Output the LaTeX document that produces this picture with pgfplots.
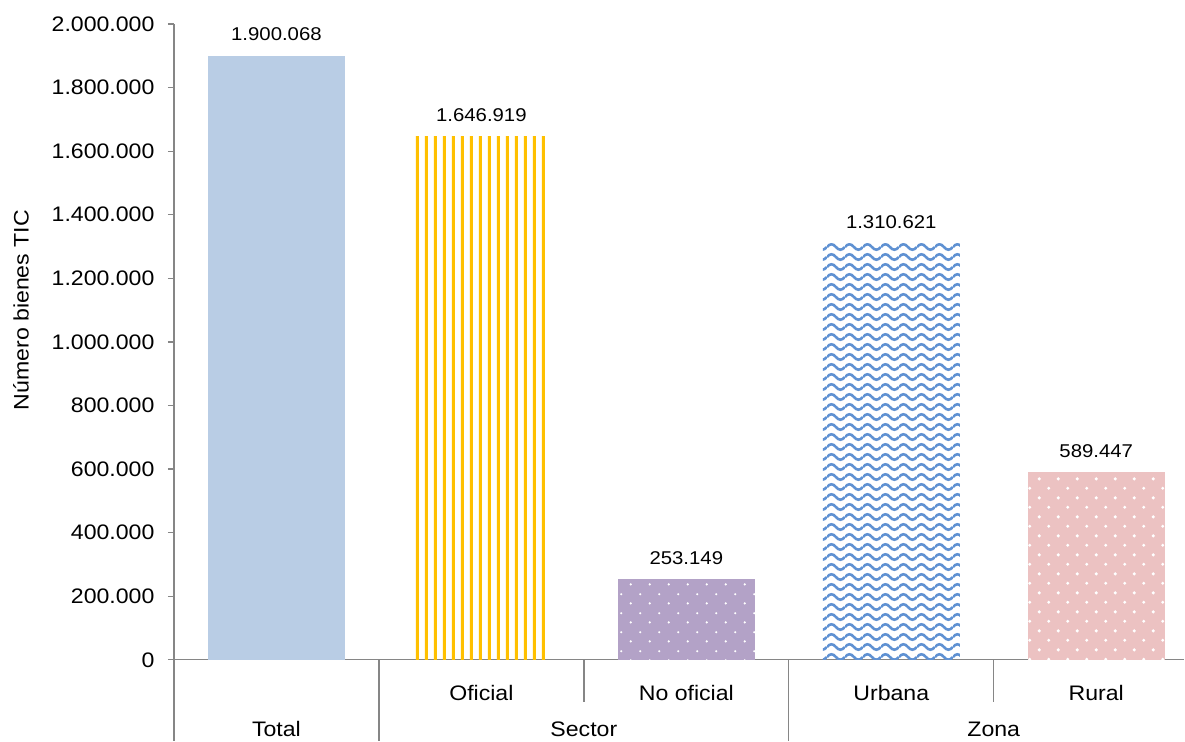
\documentclass[border=0pt]{standalone}
\usepackage{fontspec}
\setmainfont{Liberation Sans}[FakeStretch=1.1]
\usepackage{pgfplots}
\pgfplotsset{compat=1.18}
\usetikzlibrary{patterns}

\definecolor{totalblue}{RGB}{185,205,229}
\definecolor{gold}{RGB}{255,192,0}
\definecolor{lilac}{RGB}{179,162,199}
\definecolor{waveblue}{RGB}{95,145,210}
\definecolor{pinkc}{RGB}{236,194,194}
\definecolor{axgray}{RGB}{134,134,134}

\pgfdeclarepatternformonly{vstripes}{\pgfqpoint{0bp}{0bp}}{\pgfqpoint{9.2bp}{4bp}}{\pgfqpoint{9.2bp}{4bp}}{%
  \pgfpathrectangle{\pgfqpoint{3bp}{-1bp}}{\pgfqpoint{3.4bp}{6bp}}\pgfusepath{fill}}
\pgfdeclarepatternformonly{sdots}{\pgfqpoint{0bp}{0bp}}{\pgfqpoint{19bp}{19.2bp}}{\pgfqpoint{19bp}{19.2bp}}{%
  \pgfpathcircle{\pgfqpoint{4.75bp}{4.8bp}}{1.2bp}\pgfpathcircle{\pgfqpoint{14.25bp}{14.4bp}}{1.2bp}\pgfusepath{fill}}
\pgfdeclarepatternformonly{stars}{\pgfqpoint{0bp}{0bp}}{\pgfqpoint{19bp}{19.4bp}}{\pgfqpoint{19bp}{19.4bp}}{%
  \pgfpathcircle{\pgfqpoint{4.75bp}{4.85bp}}{1.7bp}\pgfpathcircle{\pgfqpoint{14.25bp}{14.55bp}}{1.7bp}\pgfusepath{fill}}
\pgfdeclarepatternformonly{waves}{\pgfqpoint{0bp}{0bp}}{\pgfqpoint{18.4bp}{10bp}}{\pgfqpoint{18.4bp}{10bp}}{%
  \pgfsetlinewidth{2.6bp}%
  \pgfpathmoveto{\pgfqpoint{0bp}{5bp}}%
  \pgfpathcurveto{\pgfqpoint{3.07bp}{8.6bp}}{\pgfqpoint{6.13bp}{8.6bp}}{\pgfqpoint{9.2bp}{5bp}}%
  \pgfpathcurveto{\pgfqpoint{12.27bp}{1.4bp}}{\pgfqpoint{15.33bp}{1.4bp}}{\pgfqpoint{18.4bp}{5bp}}%
  \pgfusepath{stroke}}

\newcommand{\tickfont}{\fontsize{21bp}{24bp}\selectfont}
\newcommand{\labfont}{\fontsize{18.5bp}{22bp}\selectfont}

\begin{document}
\begin{tikzpicture}
\begin{axis}[
  scale only axis, width=1010.6bp, height=636bp,
  xmin=-0.5, xmax=4.43, ymin=0, ymax=2000000,
  axis x line*=bottom, axis y line*=left,
  x axis line style={-}, y axis line style={-},
  axis line style={draw=axgray, line width=1.3bp},
  ytick={0,200000,400000,600000,800000,1000000,1200000,1400000,1600000,1800000,2000000},
  tick align=outside, major tick length=6bp,
  ytick style={draw=axgray, line width=1.3bp},
  xtick style={draw=none},
  xtick={0,1,2,3,4},
  xticklabels={,Oficial,No oficial,Urbana,Rural},
  xticklabel style={anchor=base, yshift=-35bp},
  yticklabel style={xshift=-10bp},
  scaled y ticks=false,
  /pgf/number format/fixed, /pgf/number format/precision=0,
  /pgf/number format/1000 sep={.}, /pgf/number format/assume math mode=true,
  tick label style={font=\tickfont},
  ylabel={Número bienes TIC},
  ylabel style={font=\tickfont, at={(rel axis cs:-0.1514,0.55)}, anchor=center},
  ybar, bar width=137bp, bar shift=0pt,
  nodes near coords,
  every node near coord/.append style={font=\labfont, text=black, anchor=base, yshift=15bp},
  clip=false,
]
\addplot[draw=none, fill=totalblue] coordinates {(0,1900068)};
\addplot[draw=none, pattern=vstripes, pattern color=gold] coordinates {(1,1646919)};
\addplot[draw=none, fill=lilac, postaction={pattern=sdots, pattern color=white}] coordinates {(2,253149)};
\addplot[draw=none, pattern=waves, pattern color=waveblue] coordinates {(3,1310621)};
\addplot[draw=none, fill=pinkc, postaction={pattern=stars, pattern color=white}] coordinates {(4,589447)};

\draw[axgray, line width=1.3bp] (axis cs:-0.5,0) -- ++(0bp,-81bp);
\draw[axgray, line width=1.3bp] (axis cs:0.5,0) -- ++(0bp,-81bp);
\draw[axgray, line width=1.3bp] (axis cs:1.5,0) -- ++(0bp,-42bp);
\draw[axgray, line width=1.3bp] (axis cs:2.5,0) -- ++(0bp,-81bp);
\draw[axgray, line width=1.3bp] (axis cs:3.5,0) -- ++(0bp,-42bp);
\node[anchor=base, yshift=-77bp, font=\tickfont] at (axis cs:0,0) {Total};
\node[anchor=base, yshift=-77bp, font=\tickfont] at (axis cs:1.5,0) {Sector};
\node[anchor=base, yshift=-77bp, font=\tickfont] at (axis cs:3.5,0) {Zona};
\end{axis}
\path (current axis.south west) ++(-174bp,-81bp) rectangle ++(1185bp,741bp);
\end{tikzpicture}
\end{document}
